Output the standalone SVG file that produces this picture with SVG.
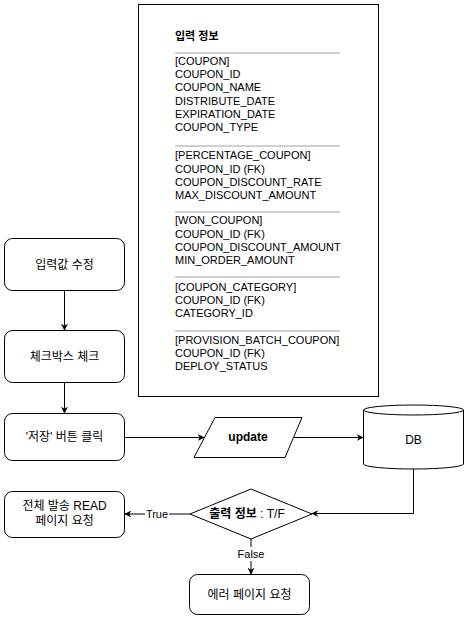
<svg xmlns="http://www.w3.org/2000/svg" width="468" height="618" viewBox="0 0 468 618">
<style>
text{font-family:"Liberation Sans","Noto Sans CJK KR",sans-serif;fill:#000}
.n{fill:#fff;stroke:#000;stroke-width:1}
.l{font-size:11px}
.t{font-size:12px;text-anchor:middle}
.b{font-weight:bold}
.sep{stroke:#a0a0a0;stroke-width:1.2}
.c{fill:none;stroke:#000;stroke-width:1}
</style>
<defs>
<marker id="ah" viewBox="0 0 10 10" refX="9" refY="5" markerWidth="7" markerHeight="7" orient="auto" markerUnits="userSpaceOnUse">
<path d="M0,0 L10,5 L0,10 L3,5 Z" fill="#000"/>
</marker>
</defs>
<rect width="468" height="618" fill="#fff"/>
<g id="info">
<rect class="n" x="138.5" y="4.5" width="240" height="392"/>
<text class="l b" x="175" y="40">입력 정보</text>
<line class="sep" x1="175" y1="53" x2="340" y2="53"/>
<text class="l" x="175" y="65">[COUPON]</text>
<text class="l" x="175" y="78.2">COUPON_ID</text>
<text class="l" x="175" y="91.4">COUPON_NAME</text>
<text class="l" x="175" y="104.6">DISTRIBUTE_DATE</text>
<text class="l" x="175" y="117.8">EXPIRATION_DATE</text>
<text class="l" x="175" y="131">COUPON_TYPE</text>
<line class="sep" x1="175" y1="146" x2="340" y2="146"/>
<text class="l" x="175" y="159.3">[PERCENTAGE_COUPON]</text>
<text class="l" x="175" y="172.5">COUPON_ID (FK)</text>
<text class="l" x="175" y="185.7">COUPON_DISCOUNT_RATE</text>
<text class="l" x="175" y="198.9">MAX_DISCOUNT_AMOUNT</text>
<line class="sep" x1="175" y1="212" x2="340" y2="212"/>
<text class="l" x="175" y="224.3">[WON_COUPON]</text>
<text class="l" x="175" y="237.5">COUPON_ID (FK)</text>
<text class="l" x="175" y="250.7">COUPON_DISCOUNT_AMOUNT</text>
<text class="l" x="175" y="263.9">MIN_ORDER_AMOUNT</text>
<line class="sep" x1="175" y1="277" x2="340" y2="277"/>
<text class="l" x="175" y="291">[COUPON_CATEGORY]</text>
<text class="l" x="175" y="304.2">COUPON_ID (FK)</text>
<text class="l" x="175" y="317.4">CATEGORY_ID</text>
<line class="sep" x1="175" y1="331" x2="340" y2="331"/>
<text class="l" x="175" y="343.5">[PROVISION_BATCH_COUPON]</text>
<text class="l" x="175" y="357">COUPON_ID (FK)</text>
<text class="l" x="175" y="370.2">DEPLOY_STATUS</text>
</g>
<g id="edit">
<rect class="n" x="4.5" y="238.5" width="120" height="52" rx="8"/>
<text class="t" x="64.5" y="268.5">입력값 수정</text>
</g>
<g id="check">
<rect class="n" x="4.5" y="330.5" width="120" height="52" rx="8"/>
<text class="t" x="64.5" y="360.5">체크박스 체크</text>
</g>
<g id="save">
<rect class="n" x="4.5" y="413.5" width="120" height="47" rx="8"/>
<text class="t" x="64.5" y="441">'저장' 버튼 클릭</text>
</g>
<g id="update">
<path class="n" d="M215,417.5 L302,417.5 L285,457.5 L194,457.5 Z"/>
<text class="t b" x="248" y="441">update</text>
</g>
<g id="db">
<path class="n" d="M363.5,410 L363.5,464 A50,5 0 0 0 463.5,464 L463.5,410 A50,5 0 0 0 363.5,410 Z"/>
<path class="c" d="M363.5,410 A50,5 0 0 0 463.5,410"/>
<text class="t" x="413.5" y="444">DB</text>
</g>
<g id="decision">
<path class="n" d="M251,489 L312,514 L251,539 L190,514 Z"/>
<text class="t" x="247" y="518"><tspan class="b">출력 정보</tspan> : T/F</text>
</g>
<g id="readpage">
<rect class="n" x="4.5" y="491.5" width="120" height="46" rx="8"/>
<text class="t" x="64.5" y="510">전체 발송 READ</text>
<text class="t" x="64.5" y="525">페이지 요청</text>
</g>
<g id="errorpage">
<rect class="n" x="189.5" y="574.5" width="120" height="40" rx="8"/>
<text class="t" x="249.5" y="599">에러 페이지 요청</text>
</g>
<g id="connectors">
<line class="c" x1="64.5" y1="291" x2="64.5" y2="330" marker-end="url(#ah)"/>
<line class="c" x1="64.5" y1="383" x2="64.5" y2="413" marker-end="url(#ah)"/>
<line class="c" x1="125" y1="437.5" x2="204" y2="437.5" marker-end="url(#ah)"/>
<line class="c" x1="293" y1="437.5" x2="363" y2="437.5" marker-end="url(#ah)"/>
<path class="c" d="M413.5,469 L413.5,513.5 L312,513.5" marker-end="url(#ah)"/>
<line class="c" x1="190" y1="514" x2="125" y2="514" marker-end="url(#ah)"/>
<line class="c" x1="251" y1="539" x2="251" y2="574" marker-end="url(#ah)"/>
<rect x="145" y="506" width="24" height="15" fill="#fff"/>
<text class="l" x="157" y="518" text-anchor="middle">True</text>
<rect x="236" y="547" width="30" height="14" fill="#fff"/>
<text class="l" x="251" y="558" text-anchor="middle">False</text>
</g>
</svg>
